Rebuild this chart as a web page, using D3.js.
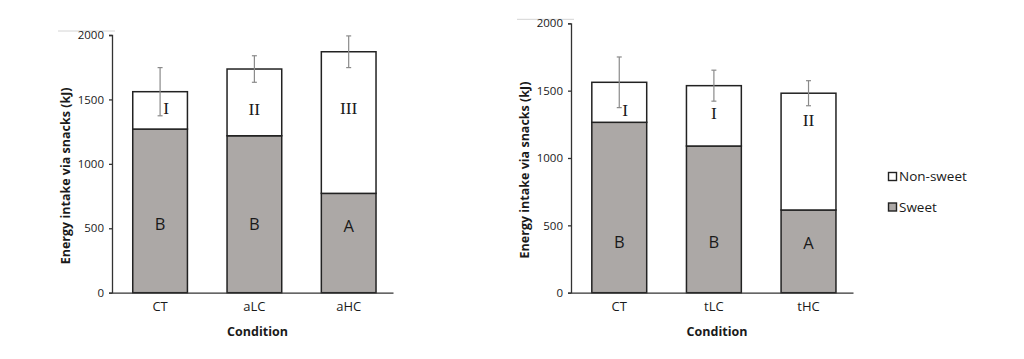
<!DOCTYPE html>
<html>
<head>
<meta charset="utf-8">
<script src="https://cdn.jsdelivr.net/npm/d3@7"></script>
<style>
  html, body { margin: 0; padding: 0; background: #fff; }
  svg { display: block; }
  text { font-family: "Open Sans", "Liberation Sans", sans-serif; fill: #1a1a1a; }
</style>
</head>
<body>
<svg id="chart" width="1024" height="359"></svg>
<script>
// ---- Data ----
const yTicks = [0, 500, 1000, 1500, 2000];
const seriesNames = ["Non-sweet", "Sweet"];

// Panel 1 (acute)
const categoriesA = ["CT", "aLC", "aHC"];
const sweetA = [1270, 1218, 771];
const nonSweetA = [290, 518, 1099];
const errorA = [187, 103, 123];
const sweetLettersA = ["B", "B", "A"];
const nonSweetLettersA = ["I", "II", "III"];
const sweetLetterYA = [533, 533, 520];
const nonSweetLetterYA = [1433, 1423, 1431];

// Panel 2 (tonic)
const categoriesB = ["CT", "tLC", "tHC"];
const sweetB = [1265, 1089, 614];
const nonSweetB = [297, 448, 867];
const errorB = [188, 115, 93];
const sweetLettersB = ["B", "B", "A"];
const nonSweetLettersB = ["I", "I", "II"];
const sweetLetterYB = [379, 379, 367];
const nonSweetLetterYB = [1357, 1332, 1283];

// ---- Styles ----
const sweetFill = "#aca8a6";
const nonSweetFill = "#ffffff";
const barStroke = "#222222";
const axisColor = "#333333";
const errColor = "#8a8a8a";

const svg = d3.select("#chart");

function drawPanel(opt) {
  const g = svg.append("g");
  const x = d3.scaleBand().domain(opt.categories)
    .range([opt.x0, opt.x1]).paddingInner(0.42).paddingOuter(0.2).align(0.55);
  const y = d3.scaleLinear().domain([0, 2000]).range([opt.y0, opt.y1]);

  // faint top-left frame remnant
  g.append("line")
    .attr("x1", opt.x0 - 54).attr("x2", opt.x0 + 3)
    .attr("y1", opt.y1 - 4).attr("y2", opt.y1 - 4)
    .attr("stroke", "#d4d4d4").attr("stroke-width", 1);

  // y axis
  const yAxis = d3.axisLeft(y).tickValues(yTicks).tickSize(3).tickPadding(5).tickFormat(d3.format("d"));
  const ya = g.append("g").attr("transform", `translate(${opt.x0},0)`).call(yAxis);
  ya.select(".domain").attr("stroke", axisColor).attr("stroke-width", 1.3);
  ya.selectAll(".tick line").attr("stroke", axisColor).attr("stroke-width", 1.3);
  ya.selectAll(".tick text").style("font-size", "11.5px").attr("fill", "#262626")
    .style("font-family", "'Open Sans', sans-serif");

  const data = opt.categories.map((c, i) => ({
    c, sweet: opt.sweet[i], non: opt.non[i], err: opt.err[i],
    sl: opt.sweetLetters[i], nl: opt.nonLetters[i],
    sly: opt.sweetLetterY[i], nly: opt.nonLetterY[i]
  }));

  // bars
  g.selectAll(".sweet").data(data).join("rect")
    .attr("x", d => x(d.c)).attr("width", x.bandwidth())
    .attr("y", d => y(d.sweet)).attr("height", d => y(0) - y(d.sweet))
    .attr("fill", sweetFill).attr("stroke", barStroke).attr("stroke-width", 1.5);
  g.selectAll(".non").data(data).join("rect")
    .attr("x", d => x(d.c)).attr("width", x.bandwidth())
    .attr("y", d => y(d.sweet + d.non)).attr("height", d => y(d.sweet) - y(d.sweet + d.non))
    .attr("fill", nonSweetFill).attr("stroke", barStroke).attr("stroke-width", 1.5);

  // x axis line
  const xAxis = d3.axisBottom(x).tickSize(0).tickPadding(9);
  const xa = g.append("g").attr("transform", `translate(0,${opt.y0})`).call(xAxis);
  xa.select(".domain").attr("stroke", axisColor).attr("stroke-width", 1.3);
  xa.selectAll(".tick text").style("font-size", "13px").attr("fill", "#1a1a1a")
    .style("font-family", "'Open Sans', sans-serif");

  // error bars
  const cx = d => x(d.c) + x.bandwidth() / 2;
  const eb = g.selectAll(".err").data(data).join("g");
  eb.append("line").attr("x1", cx).attr("x2", cx)
    .attr("y1", d => y(d.sweet + d.non + d.err)).attr("y2", d => y(d.sweet + d.non - d.err))
    .attr("stroke", errColor).attr("stroke-width", 1.2);
  [1, -1].forEach(s => {
    eb.append("line").attr("x1", d => cx(d) - 2.5).attr("x2", d => cx(d) + 2.5)
      .attr("y1", d => y(d.sweet + d.non + s * d.err)).attr("y2", d => y(d.sweet + d.non + s * d.err))
      .attr("stroke", errColor).attr("stroke-width", 1.2);
  });

  // letters
  g.selectAll(".sl").data(data).join("text")
    .attr("x", cx).attr("y", d => y(d.sly)).attr("dy", "0.36em")
    .attr("text-anchor", "middle").style("font-size", "16.5px").attr("fill", "#111").text(d => d.sl);
  g.selectAll(".nl").data(data).join("text")
    .attr("x", (d, i) => cx(d) + (i === 0 ? 6 : 0)).attr("y", d => y(d.nly)).attr("dy", "0.35em")
    .attr("text-anchor", "middle").style("font-size", "17.5px").attr("fill", "#111")
    .style("font-family", "'Liberation Serif', 'DejaVu Serif', serif").text(d => d.nl);

  // axis titles
  g.append("text")
    .attr("transform", `translate(${opt.titleX},${(opt.y0 + opt.y1) / 2 + 12}) rotate(-90)`)
    .attr("text-anchor", "middle").style("font-size", "12.5px").style("font-weight", "bold")
    .attr("fill", "#111")
    .text("Energy intake via snacks (kJ)");
  g.append("text")
    .attr("x", (opt.x0 + opt.x1) / 2 + 5).attr("y", opt.y0 + 43)
    .attr("text-anchor", "middle").style("font-size", "12.5px").style("font-weight", "bold")
    .attr("fill", "#111")
    .text("Condition");
}

drawPanel({
  categories: categoriesA, sweet: sweetA, non: nonSweetA, err: errorA,
  sweetLetters: sweetLettersA, nonLetters: nonSweetLettersA,
  sweetLetterY: sweetLetterYA, nonLetterY: nonSweetLetterYA,
  x0: 112, x1: 393, y0: 292.7, y1: 35, titleX: 70
});
drawPanel({
  categories: categoriesB, sweet: sweetB, non: nonSweetB, err: errorB,
  sweetLetters: sweetLettersB, nonLetters: nonSweetLettersB,
  sweetLetterY: sweetLetterYB, nonLetterY: nonSweetLetterYB,
  x0: 571, x1: 853, y0: 292.7, y1: 23.3, titleX: 529
});

// legend
const legend = svg.append("g").attr("transform", "translate(888,172)");
const lg = legend.selectAll("g").data(seriesNames).join("g")
  .attr("transform", (d, i) => `translate(0,${i * 30.5})`);
lg.append("rect").attr("width", 8).attr("height", 8).attr("x", 0.5).attr("y", 0.5)
  .attr("fill", (d, i) => i === 0 ? nonSweetFill : sweetFill)
  .attr("stroke", barStroke).attr("stroke-width", 1.4);
lg.append("text").attr("x", 11).attr("y", 4.5).attr("dy", "0.36em")
  .style("font-size", "13.5px").attr("fill", "#222").text(d => d);
</script>
</body>
</html>
